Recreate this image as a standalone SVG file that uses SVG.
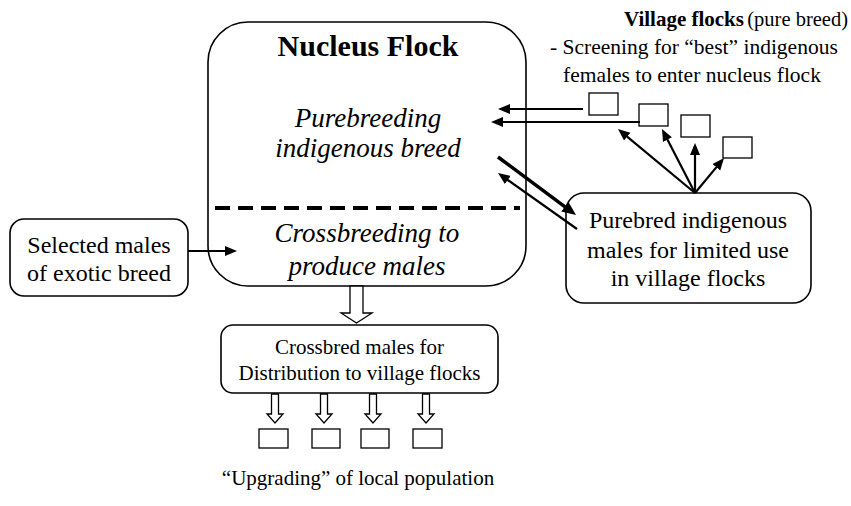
<svg xmlns="http://www.w3.org/2000/svg" width="851" height="506" viewBox="0 0 851 506">
<style>
  text { font-family: "Liberation Serif", "Times New Roman", serif; fill: #000; }
  .box { fill: #fff; stroke: #000; stroke-width: 1.6; }
  .sq { fill: #fff; stroke: #000; stroke-width: 1.3; }
  .arr { fill: none; stroke: #000; stroke-width: 2.2; }
  .hollow { fill: #fff; stroke: #000; stroke-width: 1.3; }
  .t24 { font-size: 24px; text-anchor: middle; }
  .ti { font-size: 27px; font-style: italic; text-anchor: middle; }
  .t21 { font-size: 21px; }
  .sub { font-size: 21.5px; }
</style>
<defs>
  <marker id="ah" markerUnits="userSpaceOnUse" markerWidth="13" markerHeight="11" refX="6" refY="5" orient="auto">
    <path d="M0,0 L12,5 L0,10 z" fill="#000"/>
  </marker>
  <marker id="ahb" markerUnits="userSpaceOnUse" markerWidth="15" markerHeight="13" refX="7" refY="6" orient="auto">
    <path d="M0,0 L14,6 L0,12 z" fill="#000"/>
  </marker>
</defs>
<rect width="851" height="506" fill="#fff"/>

<g id="nucleus">
  <rect class="box" x="208" y="22" width="318" height="264" rx="40" ry="40"/>
  <text x="368" y="56" style="font-size:30px;font-weight:bold;text-anchor:middle">Nucleus Flock</text>
  <text class="ti" x="368" y="127">Purebreeding</text>
  <text class="ti" x="368" y="157">indigenous breed</text>
  <line x1="215" y1="208" x2="520" y2="208" stroke="#000" stroke-width="4" stroke-dasharray="15 8"/>
  <text class="ti" x="367" y="242">Crossbreeding to</text>
  <text class="ti" x="367" y="275">produce males</text>
</g>

<g id="exotic">
  <rect class="box" x="10" y="219" width="178" height="77" rx="14" ry="14"/>
  <text class="t24" x="99" y="253">Selected males</text>
  <text class="t24" x="99" y="281">of exotic breed</text>
</g>

<g id="purebred-males">
  <rect class="box" x="566" y="193" width="245" height="110" rx="18" ry="18"/>
  <text class="t24" x="688" y="228">Purebred indigenous</text>
  <text class="t24" x="688" y="258">males for limited use</text>
  <text class="t24" x="688" y="286">in village flocks</text>
</g>

<g id="village">
  <text x="624" y="26" style="font-size:21px;font-weight:bold">Village flocks</text>
  <text x="848" y="26" style="font-size:20.5px;text-anchor:end">(pure breed)</text>
  <text class="sub" x="550" y="54">- Screening for “best” indigenous</text>
  <text class="sub" x="563" y="82">females to enter nucleus flock</text>
  <rect class="sq" x="589" y="93" width="29" height="22"/>
  <rect class="sq" x="639" y="104" width="29" height="22"/>
  <rect class="sq" x="681" y="115" width="29" height="22"/>
  <rect class="sq" x="723" y="137" width="29" height="21"/>
</g>

<g id="crossbred">
  <rect class="box" x="221" y="325" width="277" height="68" rx="12" ry="12"/>
  <text class="t21" x="359.5" y="354" text-anchor="middle">Crossbred males for</text>
  <text class="t21" x="359.5" y="380" text-anchor="middle">Distribution to village flocks</text>
</g>

<g id="local">
  <rect class="sq" x="259" y="429" width="29" height="19"/>
  <rect class="sq" x="312" y="429" width="28" height="19"/>
  <rect class="sq" x="361" y="429" width="28" height="19"/>
  <rect class="sq" x="413" y="429" width="29" height="19"/>
  <text class="t21" x="358" y="485" text-anchor="middle">“Upgrading” of local population</text>
</g>

<g id="connectors">
  <line class="arr" x1="583" y1="109" x2="504" y2="109" marker-end="url(#ah)"/>
  <line class="arr" x1="640" y1="122" x2="497" y2="122" marker-end="url(#ah)"/>
  <line class="arr" x1="695" y1="193" x2="622.6" y2="132.8" marker-end="url(#ah)"/>
  <line class="arr" x1="695" y1="193" x2="664.7" y2="134.3" marker-end="url(#ah)"/>
  <line class="arr" x1="695" y1="193" x2="695" y2="149" marker-end="url(#ah)"/>
  <line class="arr" x1="695" y1="193" x2="720.2" y2="162.6" marker-end="url(#ah)"/>
  <line class="arr" style="stroke-width:3.5" x1="498" y1="157" x2="570.4" y2="210.8" marker-end="url(#ahb)"/>
  <line class="arr" x1="577" y1="229" x2="502.9" y2="176.5" marker-end="url(#ah)"/>
  <line class="arr" x1="188" y1="251" x2="231" y2="251" marker-end="url(#ah)"/>
  <polygon class="hollow" points="350,286 363,286 363,313 372,313 356.5,323 341,313 350,313"/>
  <polygon class="hollow" points="271.5,394 278.5,394 278.5,414 283,414 275,423 267,414 271.5,414"/>
  <polygon class="hollow" points="320.5,394 327.5,394 327.5,414 332,414 324,423 316,414 320.5,414"/>
  <polygon class="hollow" points="369.5,394 376.5,394 376.5,414 381,414 373,423 365,414 369.5,414"/>
  <polygon class="hollow" points="422.5,394 429.5,394 429.5,414 434,414 426,423 418,414 422.5,414"/>
</g>
</svg>
